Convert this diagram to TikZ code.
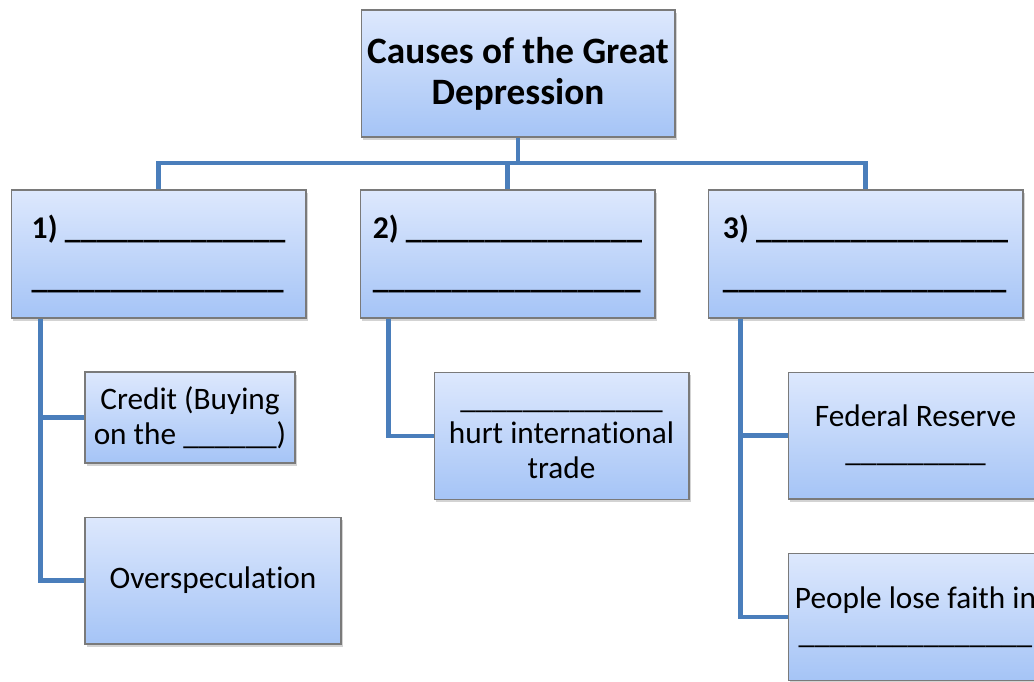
\documentclass[tikz,border=0pt]{standalone}
\usepackage{fontspec}
\setmainfont{Carlito}[Ligatures=CommonOff]
\usetikzlibrary{positioning, calc, shadows}
\definecolor{boxtop}{HTML}{DDE8FD}
\definecolor{boxbottom}{HTML}{A5C4F6}
\definecolor{boxline}{HTML}{7A7A7A}
\definecolor{linkblue}{HTML}{4A7EBB}

\begin{document}
\begin{tikzpicture}[x=0.02cm, y=-0.02cm,
    box/.style={draw=boxline, line width=0.6pt, rectangle, top color=boxtop, bottom color=boxbottom,
        drop shadow={shadow xshift=0.9pt, shadow yshift=-1.5pt, opacity=0.35}, align=center, inner sep=1pt},
    head/.style={box, align=left, minimum width=5.9cm, minimum height=2.56cm,
        font=\fontsize{18}{28}\selectfont\bfseries},
    leaf/.style={box, font=\fontsize{17.8}{20}\selectfont},
    link/.style={draw=linkblue, line width=2.8pt}]
    \useasboundingbox (0,0) rectangle (1034,681);
    \clip (0,0) rectangle (1034,681);

    % top and the three causes
    \node (title) [box, minimum width=6.28cm, minimum height=2.54cm, font=\fontsize{21.2}{23.5}\selectfont\bfseries] at (518,73.5) {Causes of the Great\\Depression};
    \node (cause1) [head] at (158.5,254) {1) \_\_\_\_\_\_\_\_\_\_\_\_\_\_\\\_\_\_\_\_\_\_\_\_\_\_\_\_\_\_\_};
    \node (cause2) [head] at (507.5,254) {2) \_\_\_\_\_\_\_\_\_\_\_\_\_\_\_\\\_\_\_\_\_\_\_\_\_\_\_\_\_\_\_\_\_};
    \node (cause3) [head, minimum width=6.3cm] at (865.5,254) {3) \_\_\_\_\_\_\_\_\_\_\_\_\_\_\_\_\\\_\_\_\_\_\_\_\_\_\_\_\_\_\_\_\_\_\_};

    % details
    \node (credit) [leaf, minimum width=4.2cm, minimum height=1.82cm] at (190,417.5) {Credit (Buying\\on the \_\_\_\_\_\_)};
    \node (overspec) [leaf, minimum width=5.12cm, minimum height=2.54cm] at (213,580.5) {Overspeculation};
    \node (trade) [leaf, minimum width=5.1cm, minimum height=2.54cm] at (561.5,436) {\mbox{}\\[-11pt]\_\_\_\_\_\_\_\_\_\_\_\_\_\\hurt international\\trade};
    \node (fed) [leaf, minimum width=5.1cm, minimum height=2.54cm] at (915.5,435.5) {Federal Reserve\\\_\_\_\_\_\_\_\_\_};
    \node (people) [leaf, minimum width=5.1cm, minimum height=2.54cm] at (915.5,617) {People lose faith in\\\_\_\_\_\_\_\_\_\_\_\_\_\_\_\_};

    % connectors
    \coordinate (bus) at (518,163);
    \draw[link] (title.south) -- (bus);
    \draw[link] (cause1.north) |- (bus) -| (cause3.north);
    \draw[link] (bus -| cause2.north) -- (cause2.north);

    \coordinate (trunk1) at ([xshift=0.6cm]cause1.south west);
    \coordinate (trunk2) at ([xshift=0.58cm]cause2.south west);
    \coordinate (trunk3) at ([xshift=0.66cm]cause3.south west);
    \draw[link] (trunk1) |- (overspec.west);
    \draw[link] (trunk1 |- credit.west) -- (credit.west);
    \draw[link] (trunk2) |- (trade.west);
    \draw[link] (trunk3) |- (people.west);
    \draw[link] (trunk3 |- fed.west) -- (fed.west);
\end{tikzpicture}
\end{document}
